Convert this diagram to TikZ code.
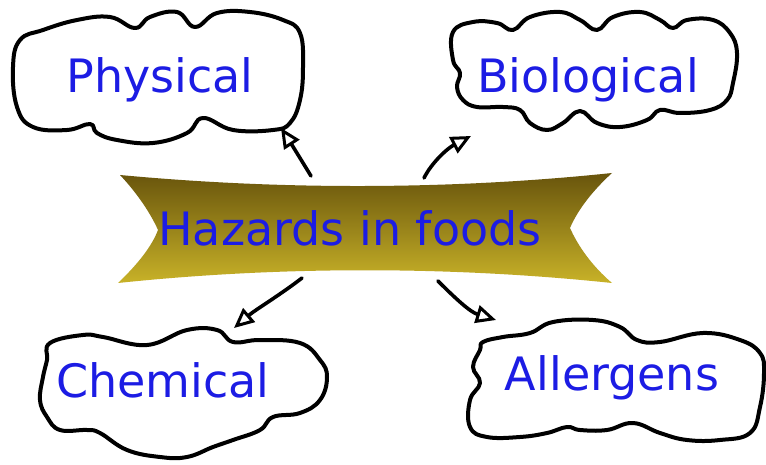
\documentclass[tikz,border=0pt]{standalone}
\usepackage{fontspec}
\newfontfamily\labelfont{DejaVu Sans}
\usetikzlibrary{arrows.meta}
\definecolor{labelblue}{RGB}{28,28,228}
\definecolor{bandark}{RGB}{104,84,12}
\definecolor{banlight}{RGB}{200,178,40}
\tikzset{
  cloudline/.style={draw=black, line width=4pt, fill=white, line join=round},
  label/.style={font=\labelfont\fontsize{46}{50}\selectfont, text=labelblue, inner sep=0pt},
  hand/.style={draw=black, line width=3.6pt, line cap=round,
    -{Triangle[open, length=20pt, width=18pt, line width=3pt]}},
}
\begin{document}
\begin{tikzpicture}[x=1pt,y=-1pt]
\useasboundingbox[fill=white] (0,0) rectangle (766,465);

% Physical cloud
\draw[cloudline] plot[smooth cycle, tension=0.7] coordinates {
 (20,40) (43,30) (77,20) (110,17) (135,28) (150,17) (177,12) (195,27)
 (217,13) (250,12) (283,20) (300,33) (303,67) (300,100) (290,123)
 (273,130) (233,130) (203,118) (187,133) (153,143) (117,140) (97,133)
 (90,124) (67,130) (33,127) (17,107) (13,67)};
% Biological cloud
\draw[cloudline] plot[smooth cycle, tension=0.7] coordinates {
 (453,32) (473,22) (497,23) (513,30) (530,17) (560,12) (580,20) (597,30)
 (613,17) (640,12) (660,20) (673,28) (687,20) (713,20) (730,33) (737,53)
 (733,83) (727,100) (710,110) (680,113) (660,110) (647,120) (620,127)
 (597,123) (580,111) (563,123) (547,130) (530,123) (520,110) (503,107)
 (477,107) (463,100) (457,87) (460,73) (453,60)};
% Chemical cloud
\draw[cloudline] plot[smooth cycle, tension=0.7] coordinates {
 (50,343) (83,335) (103,337) (147,345) (187,330) (217,330) (233,342)
 (260,340) (300,343) (320,360) (327,377) (320,400) (300,413) (273,417)
 (260,430) (233,440) (213,447) (187,457) (160,457) (127,450) (100,433)
 (87,430) (60,430) (47,417) (40,400) (43,377) (47,360)};
% Allergens cloud
\draw[cloudline] plot[smooth cycle, tension=0.7] coordinates {
 (483,342) (503,337) (530,333) (553,322) (593,320) (620,327) (637,340)
 (660,342) (703,333) (740,340) (760,353) (764,373) (760,407) (750,433)
 (720,440) (687,440) (660,433) (633,423) (607,430) (580,430) (567,427)
 (547,433) (520,437) (487,437) (470,427) (470,400) (480,383) (473,367)
 (480,350)};

% Banner
\shade[top color=bandark, bottom color=banlight]
 (120,175) .. controls (280,190) and (450,190) .. (612,173)
 .. controls (588,195) and (576,214) .. (570,228)
 .. controls (578,246) and (592,266) .. (612,283)
 .. controls (450,266) and (280,266) .. (118,283)
 .. controls (138,264) and (152,246) .. (158,230)
 .. controls (150,212) and (136,192) .. cycle;

% Labels
\node[label] (haz) at (350,228) {Hazards in foods};
\node[label] (phys) at (160,80) {Physical};
\node[label] (bio) at (588,80) {Biological};
\node[label] (chem) at (163,380) {Chemical};
\node[label] (all) at (612,378) {Allergens};

% Arrow end points
\coordinate (pS) at (311,176);
\coordinate (pE) at (281,128);
\coordinate (bS) at (424,178);
\coordinate (bE) at (471,136);
\coordinate (cS) at (302,278);
\coordinate (cE) at (234,328);
\coordinate (aS) at (438,281);
\coordinate (aE) at (496,320);

\draw[hand] (pS) .. controls (300,158) and (292,145) .. (pE);
\draw[hand] (bS) .. controls (432,162) and (448,148) .. (bE);
\draw[hand] (cS) .. controls (280,295) and (255,310) .. (cE);
\draw[hand] (aS) .. controls (455,298) and (470,312) .. (aE);
\end{tikzpicture}
\end{document}
